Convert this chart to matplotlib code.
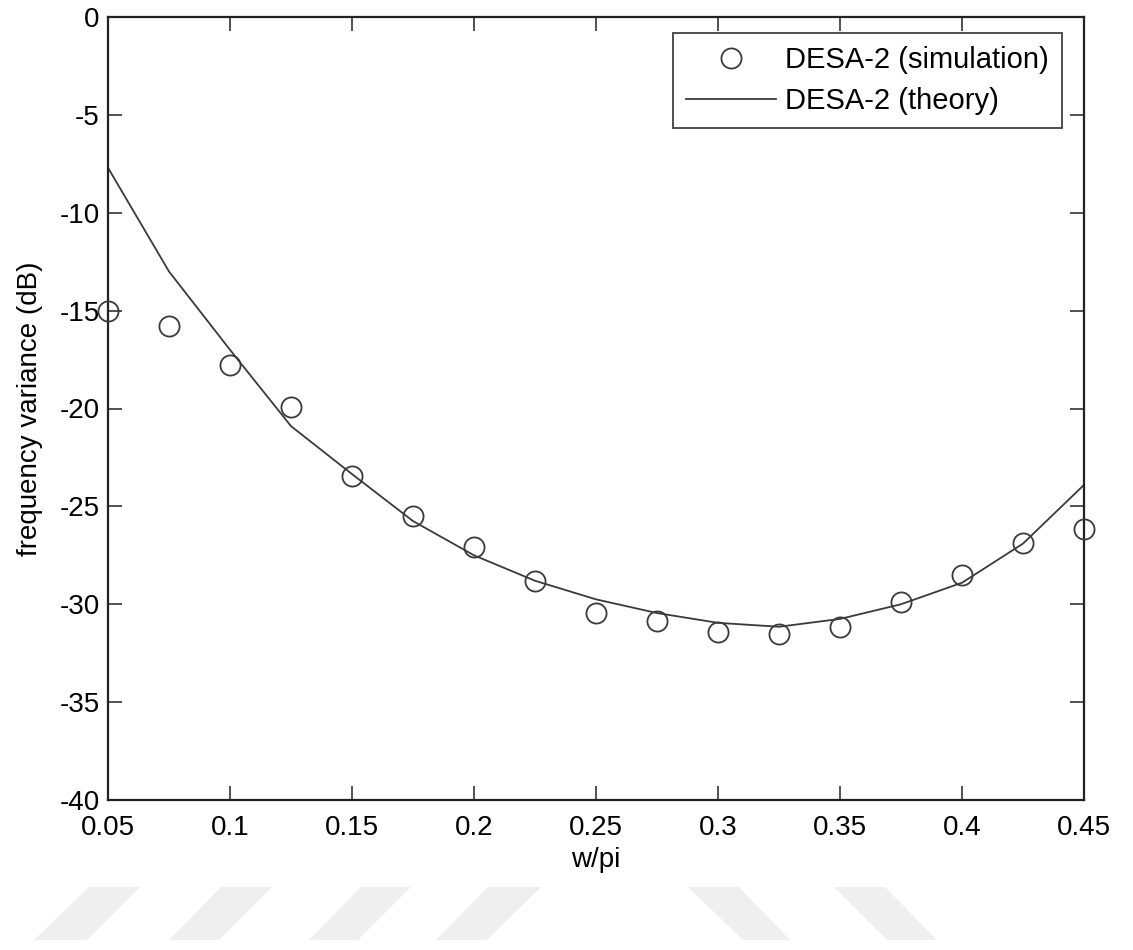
import matplotlib
matplotlib.use("Agg")
import matplotlib.pyplot as plt
from matplotlib.patches import Polygon

plt.rcParams['font.family'] = ['Liberation Sans', 'DejaVu Sans']

# Data
w_sim = [0.05, 0.075, 0.1, 0.125, 0.15, 0.175, 0.2, 0.225, 0.25, 0.275,
         0.3, 0.325, 0.35, 0.375, 0.4, 0.425, 0.45]
var_sim = [-15.0, -15.8, -17.8, -19.9, -23.45, -25.5, -27.1, -28.8, -30.45, -30.85,
           -31.4, -31.5, -31.15, -29.9, -28.5, -26.85, -26.15]
w_theory = [0.05, 0.075, 0.1, 0.125, 0.15, 0.175, 0.2, 0.225, 0.25, 0.275,
            0.3, 0.325, 0.35, 0.375, 0.4, 0.425, 0.45]
var_theory = [-7.7, -13.0, -17.0, -20.9, -23.35, -25.75, -27.5, -28.8, -29.75, -30.45,
              -30.95, -31.15, -30.75, -30.0, -28.9, -26.9, -23.9]
xticks = [0.05, 0.1, 0.15, 0.2, 0.25, 0.3, 0.35, 0.4, 0.45]
xticklabels = ['0.05', '0.1', '0.15', '0.2', '0.25', '0.3', '0.35', '0.4', '0.45']
yticks = [-40, -35, -30, -25, -20, -15, -10, -5, 0]

fig = plt.figure(figsize=(11.33, 9.5), dpi=100)
ax = fig.add_axes([0.0953, 0.1579, 0.8615, 0.8242])

ax.plot(w_sim, var_sim, linestyle='none', marker='o', markersize=14.5,
        markerfacecolor='none', markeredgecolor='#3a3a3a', markeredgewidth=1.3,
        label='DESA-2 (simulation)', clip_on=False, zorder=3)
ax.plot(w_theory, var_theory, color='#3a3a3a', linewidth=1.3,
        label='DESA-2 (theory)', zorder=2)

ax.set_xlim(0.05, 0.45)
ax.set_ylim(-40, 0)
ax.set_xticks(xticks)
ax.set_xticklabels(xticklabels)
ax.set_yticks(yticks)
ax.set_yticklabels([str(t) for t in yticks])
ax.tick_params(direction='in', length=10, width=1.2, top=True, right=True,
               labelsize=20, color='#333333')
ax.tick_params(axis='x', pad=11)
ax.tick_params(axis='y', pad=6)
for s in ax.spines.values():
    s.set_linewidth(1.6)
    s.set_color('#222222')

ax.set_xlabel('w/pi', fontsize=20, labelpad=4)
ax.set_ylabel('frequency variance (dB)', fontsize=20, labelpad=12)

leg = ax.legend(loc='upper right', bbox_to_anchor=(0.9775, 0.9796),
                fontsize=21, frameon=True, fancybox=False,
                edgecolor='#222222', borderaxespad=0.0, handlelength=3.1,
                handletextpad=0.3, borderpad=0.45, labelspacing=0.45)
leg.get_frame().set_linewidth(1.4)

# Watermark stripes (figure pixel coordinates)
H = 950.0
W = 1133.0
stripes = [
    [(89, 887), (140, 887), (87, 940), (34, 940)],
    [(221, 887), (272, 887), (219, 940), (169, 940)],
    [(361, 887), (411, 887), (358, 940), (309, 940)],
    [(488, 887), (541, 887), (487, 940), (436, 940)],
    [(688, 887), (739, 887), (790, 940), (743, 940)],
    [(834, 887), (885, 887), (937, 940), (887, 940)],
]
for st in stripes:
    pts = [(x / W, 1 - y / H) for x, y in st]
    fig.patches.append(Polygon(pts, closed=True, transform=fig.transFigure,
                               facecolor='#efefef', edgecolor='none', zorder=0))

fig.savefig('out.png', dpi=100)
